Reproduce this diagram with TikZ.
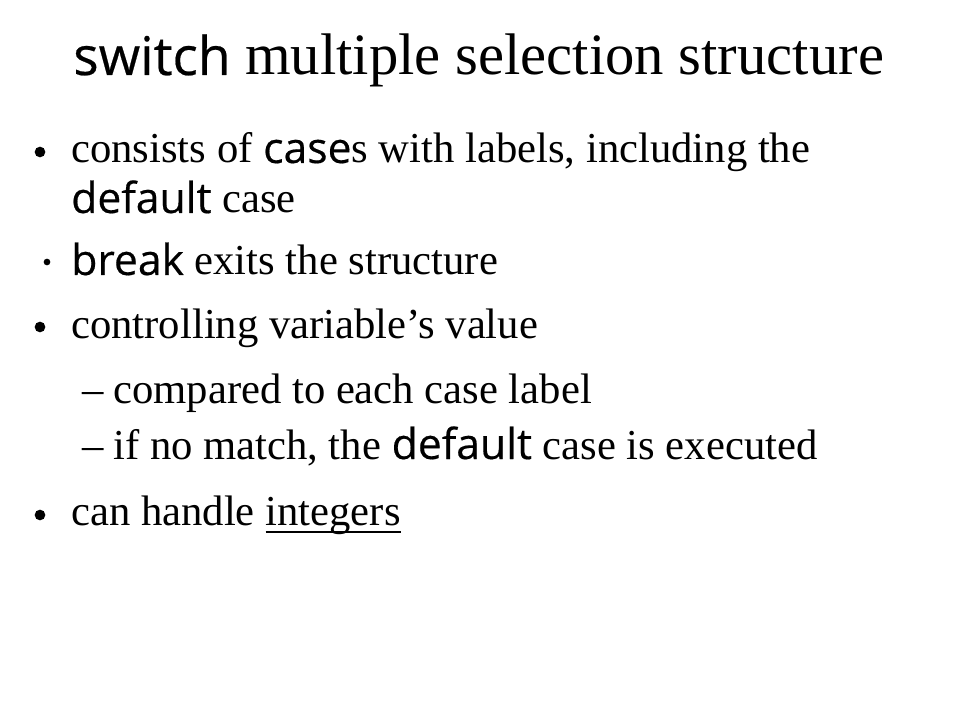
\documentclass[tikz,border=0pt]{standalone}
\usepackage{fontspec}
\setmainfont{Liberation Serif}
\newfontfamily\codefont[FakeBold=0.4]{Open Sans}
\newcommand{\code}[1]{{\codefont #1}}
\newcommand{\uword}[1]{{\setbox0\hbox{#1}\rlap{\rule[-6pt]{\wd0}{1.5pt}}\box0}}
\tikzset{line/.style = {anchor=base west, inner sep=0pt,
                        font=\fontsize{32}{38}\selectfont}}
\tikzset{heading/.style = {anchor=base west, inner sep=0pt,
                           font=\fontsize{44}{52}\selectfont}}
\tikzset{dot/.style = {circle, fill=black, inner sep=0pt, minimum size=8pt}}
\tikzset{smalldot/.style = {circle, fill=black, inner sep=0pt, minimum size=5pt}}

\begin{document}
\begin{tikzpicture}[x=0.75pt, y=-0.75pt]
    \fill [white] (0, 0) rectangle (960, 720);
    \useasboundingbox (0, 0) rectangle (960, 720);

    \node [heading] (title) at (73, 75) {{\codefont\fontsize{40}{48}\selectfont switch} multiple selection structure};

    \node [dot] (b1) at (40, 152) {};
    \node [line] (cases) at (71, 163) {consists of \code{case}s with labels, including the};
    \node [line] (deflt) at (71, 213) {\code{default} case};

    \node [smalldot] (b2) at (47, 262) {};
    \node [line] (brk) at (71, 275) {\code{break} exits the structure};

    \node [dot] (b3) at (40, 327) {};
    \node [line] (ctrl) at (71, 338) {controlling variable’s value};

    \node [line] (d1) at (82, 403) {–};
    \node [line] (cmp) at (113, 403) {compared to each case label};
    \node [line] (d2) at (82, 459) {–};
    \node [line] (nomatch) at (113, 459) {if no match, the \code{default} case is executed};

    \node [dot] (b4) at (40, 515) {};
    \node [line] (ints) at (71, 525) {can handle \uword{integers}};
\end{tikzpicture}
\end{document}
